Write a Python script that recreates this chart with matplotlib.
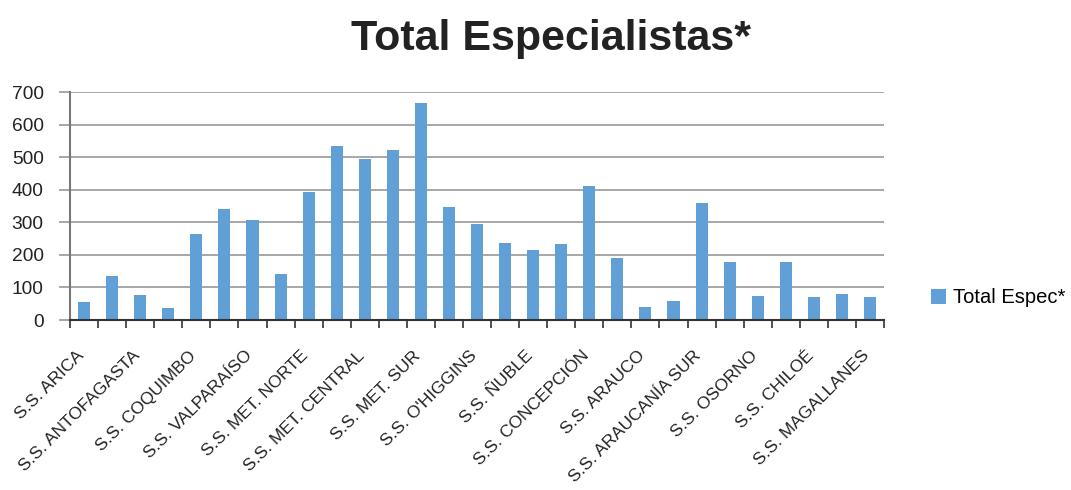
import matplotlib
matplotlib.use("Agg")
import matplotlib.pyplot as plt
import matplotlib.transforms as mtransforms
import numpy as np

categories = [
    "S.S. ARICA", "S.S. IQUIQUE", "S.S. ANTOFAGASTA", "S.S. ATACAMA",
    "S.S. COQUIMBO", "S.S. VIÑA DEL MAR-QUILLOTA", "S.S. VALPARAÍSO", "S.S. ACONCAGUA",
    "S.S. MET. NORTE", "S.S. MET. OCCIDENTE", "S.S. MET. CENTRAL", "S.S. MET. ORIENTE",
    "S.S. MET. SUR", "S.S. MET. SURORIENTE", "S.S. O'HIGGINS", "S.S. MAULE",
    "S.S. ÑUBLE", "S.S. BIOBÍO", "S.S. CONCEPCIÓN", "S.S. TALCAHUANO",
    "S.S. ARAUCO", "S.S. ARAUCANÍA NORTE", "S.S. ARAUCANÍA SUR", "S.S. VALDIVIA",
    "S.S. OSORNO", "S.S. RELONCAVÍ", "S.S. CHILOÉ", "S.S. AYSÉN", "S.S. MAGALLANES",
]
values = [56, 135, 77, 37, 264, 341, 307, 141, 394, 535, 495, 523, 667, 347, 295,
          237, 215, 234, 412, 191, 40, 58, 360, 178, 74, 178, 71, 80, 71]
series_name = "Total Espec*"
title = "Total Especialistas*"
yticks = [0, 100, 200, 300, 400, 500, 600, 700]

plt.rcParams['font.family'] = ['Liberation Sans', 'DejaVu Sans']

fig = plt.figure(figsize=(10.71, 4.90), dpi=100)
ax = fig.add_axes([0.0654, 0.3469, 0.76, 0.4653])

x = np.arange(len(categories))
bars = ax.bar(x, values, width=0.43, color="#619FD7", label=series_name, zorder=3)

ax.set_xlim(-0.5, len(categories) - 0.5)
ax.set_ylim(0, 700)
ax.set_yticks(yticks)
ax.set_yticklabels([str(v) for v in yticks], fontsize=13.8, color="#222222")
ax.tick_params(axis='y', length=8, width=1.3, color="#A0A0A0", pad=11)
ax.yaxis.grid(True, color="#A0A0A0", linewidth=1.3, zorder=0)

# major ticks at category boundaries
ax.set_xticks(np.arange(-0.5, len(categories), 1.0))
ax.set_xticklabels([])
ax.tick_params(axis='x', which='major', length=6, width=1.2, color="#333333")
# labels for every other category
ax.set_xticks(x[::2], minor=True)
ax.set_xticklabels([categories[i] for i in x[::2]], minor=True, rotation=45,
                   ha='right', va='center', rotation_mode='anchor',
                   fontsize=12.5, color="#222222")
ax.tick_params(axis='x', which='minor', length=0, pad=24)
shift = mtransforms.ScaledTranslation(-3 / 100, 0, fig.dpi_scale_trans)
for lab in ax.get_xticklabels(minor=True):
    lab.set_transform(lab.get_transform() + shift)

for s in ['top', 'right']:
    ax.spines[s].set_visible(False)
ax.spines['left'].set_color("#777777")
ax.spines['left'].set_linewidth(1.5)
ax.spines['bottom'].set_color("#333333")
ax.spines['bottom'].set_linewidth(1.5)
ax.spines['bottom'].set_zorder(4)

fig.text(0.5145, 1 - 50 / 490, title, ha='center', va='baseline', fontsize=31,
         fontweight='bold', color="#222222")

fig.legend(handles=[bars], labels=[series_name], loc='center left',
           bbox_to_anchor=(0.8525, 0.392), frameon=False, fontsize=14.5,
           handlelength=0.72, handleheight=0.72, handletextpad=0.35)

fig.savefig("out.png", dpi=100)
